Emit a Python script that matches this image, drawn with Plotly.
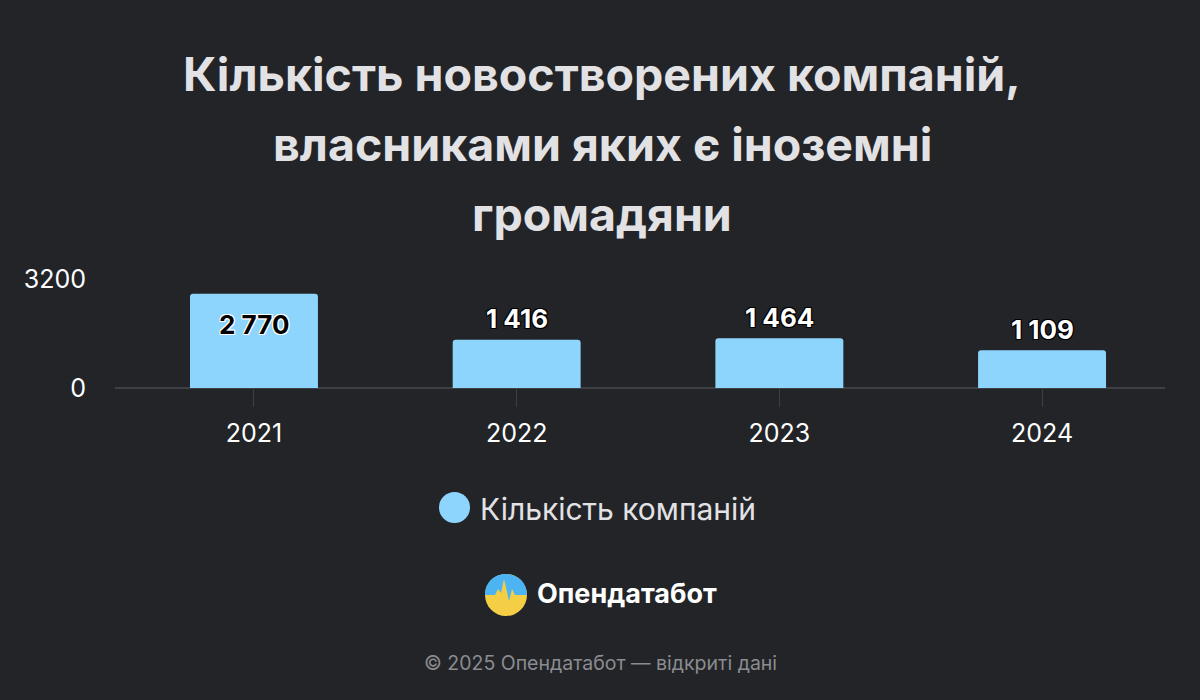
import plotly.graph_objects as go

# data
years = ["2021", "2022", "2023", "2024"]
companies = [2770, 1416, 1464, 1109]
series_name = "Кількість компаній"
title_lines = ["Кількість новостворених компаній,", "власниками яких є іноземні", "громадяни"]
y_ticks = [0, 3200]

BG = "#222428"
BAR = "#8ed5fe"
TXT = "#e2e2e5"
FONT = "Inter, Roboto, sans-serif"

W, H = 1200, 700
L, R, T, B = 115, 35, 279, 312
plot_h = H - T - B


def py(p):
    # pixel row -> paper y
    return (H - B - p) / plot_h


def px_(p):
    # pixel column -> paper x
    return (p - L) / (W - L - R)


fig = go.Figure()
fig.add_trace(go.Bar(
    x=years,
    y=companies,
    name=series_name,
    marker=dict(color=BAR, cornerradius=3, line=dict(width=0)),
    width=0.487,
    showlegend=False,
    hoverinfo="x+y",
))

# value labels: biggest bar gets the label inside, the others above
outline_k = "1px 1px 0 #000, -1px -1px 0 #000, 1px -1px 0 #000, -1px 1px 0 #000, 0 1px 0 #000, 0 -1px 0 #000"
outline_w = "1px 1px 0 #fff, -1px -1px 0 #fff, 1px -1px 0 #fff, -1px 1px 0 #fff, 0 1px 0 #fff, 0 -1px 0 #fff"
top = max(companies)
for i, v in enumerate(companies):
    inside = v == top
    fig.add_annotation(
        x=i, y=v, xref="x", yref="y",  # category index on the x axis
        text=f"<b>{v:,}</b>".replace(",", " "),
        showarrow=False,
        yanchor="middle",
        yshift=-31 if inside else 21,
        font=dict(family=FONT, size=26,
                  color="#000" if inside else "#fff",
                  shadow=outline_w if inside else outline_k),
    )

# title, one annotation per line for the wide line spacing
for i, line in enumerate(title_lines):
    fig.add_annotation(
        x=px_(602), xref="paper", xanchor="center",
        y=py(74 + i * 70), yref="paper", yanchor="middle",
        text=f"<b>{line}</b>", showarrow=False,
        font=dict(family=FONT, size=46.5, color=TXT),
    )

# legend drawn by hand (round swatch)
fig.add_shape(type="circle", xref="paper", yref="paper",
              x0=px_(439), x1=px_(470), y0=py(523), y1=py(492),
              fillcolor=BAR, line=dict(width=0))
fig.add_annotation(x=px_(478), xref="paper", xanchor="left",
                   y=py(509), yref="paper", yanchor="middle",
                   text=series_name, showarrow=False,
                   font=dict(family=FONT, size=30, color=TXT))

# logo: round badge, blue sky over yellow field with a pulse line
cx, cy, rr = 506, 595, 21
fig.add_shape(type="circle", xref="paper", yref="paper",
              x0=px_(cx - rr), x1=px_(cx + rr), y0=py(cy + rr), y1=py(cy - rr),
              fillcolor="#f4cf45", line=dict(width=0))
fig.add_shape(type="path", xref="paper", yref="paper",
              path=(f"M {px_(cx - rr)} {py(cy)} "
                    f"C {px_(cx - rr)} {py(cy - 1.33 * rr)}, {px_(cx + rr)} {py(cy - 1.33 * rr)}, {px_(cx + rr)} {py(cy)} "
                    f"L {px_(cx + 9)} {py(cy)} L {px_(cx + 6)} {py(cy - 6)} L {px_(cx + 3)} {py(cy + 6)} "
                    f"L {px_(cx + 1)} {py(cy - 3)} L {px_(cx - 2)} {py(cy - 16)} L {px_(cx - 5)} {py(cy - 2)} "
                    f"L {px_(cx - 8)} {py(cy - 6)} L {px_(cx - 11)} {py(cy)} Z"),
              fillcolor="#4db4f3", line=dict(width=0))
fig.add_annotation(x=px_(535), xref="paper", xanchor="left",
                   y=py(593), yref="paper", yanchor="middle",
                   text="<b>Опендатабот</b>", showarrow=False,
                   font=dict(family=FONT, size=27, color="#ffffff"))

fig.add_annotation(x=px_(600), xref="paper", xanchor="center",
                   y=py(663), yref="paper", yanchor="middle",
                   text="© 2025 Опендатабот — відкриті дані", showarrow=False,
                   font=dict(family=FONT, size=19.5, color="#8b8c90"))

fig.update_layout(
    width=W, height=H,
    margin=dict(l=L, r=R, t=T, b=B),
    paper_bgcolor=BG, plot_bgcolor=BG,
    font=dict(family=FONT, color="#ffffff"),
)
fig.update_xaxes(
    type="category",
    range=[-0.529, 3.468],
    showgrid=False, zeroline=False,
    showline=False,
    ticks="outside", ticklen=18, tickwidth=1, tickcolor="#3c3f44",
    ticklabelstandoff=5,
    tickfont=dict(family=FONT, size=25, color="#ffffff"),
)
fig.update_yaxes(
    range=[0, 3200], tickvals=y_ticks,
    showgrid=True, gridcolor="#4a4d52", gridwidth=1,
    zeroline=True, zerolinecolor="#3d4045", zerolinewidth=2,
    ticks="", ticklabelstandoff=28,
    tickfont=dict(family=FONT, size=25, color="#ffffff"),
)

# drop the default page margin so the figure fills the window
fig.write_html("out.html", config={"displayModeBar": False},
               post_script="document.body.style.margin='0';")
